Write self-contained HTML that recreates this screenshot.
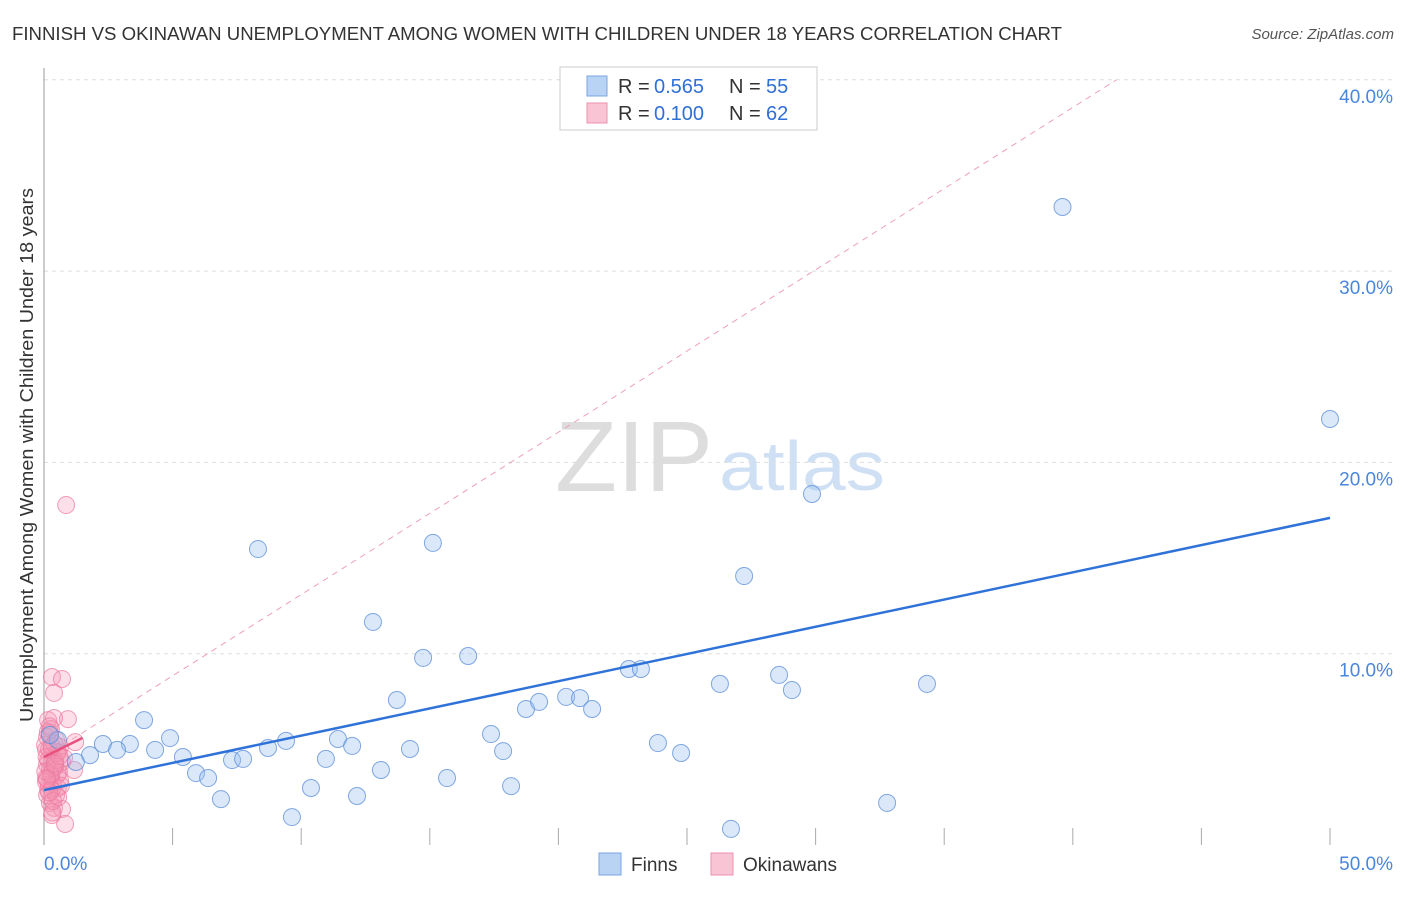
<!DOCTYPE html>
<html><head><meta charset="utf-8"><style>
body{margin:0;background:#fff;font-family:"Liberation Sans",sans-serif}
svg text{font-family:"Liberation Sans",sans-serif}
</style></head><body>
<svg id="c" width="1406" height="892">
<text x="12" y="40" font-size="18" fill="#333" textLength="1050" lengthAdjust="spacingAndGlyphs">FINNISH VS OKINAWAN UNEMPLOYMENT AMONG WOMEN WITH CHILDREN UNDER 18 YEARS CORRELATION CHART</text>
<text x="1394" y="39" font-size="15" fill="#555" text-anchor="end" font-style="italic">Source: ZipAtlas.com</text>
<text x="33" y="455" font-size="18" fill="#333" text-anchor="middle" textLength="534" lengthAdjust="spacingAndGlyphs" transform="rotate(-90 33 455)">Unemployment Among Women with Children Under 18 years</text>
<text x="634" y="491" font-size="100" fill="#ddd" font-family="Liberation Serif" text-anchor="middle" textLength="158" lengthAdjust="spacingAndGlyphs">ZIP</text>
<text x="802" y="490" font-size="70" fill="#cfe0f5" text-anchor="middle" textLength="166" lengthAdjust="spacingAndGlyphs">atlas</text>
<g id="grid"></g><g id="pts"></g><g id="lines"></g>
<g>
<rect x="560" y="67" width="257" height="63" fill="#fff" stroke="#ccc"/>
<rect x="587" y="76" width="20" height="20" fill="#b9d3f5" stroke="#7aa6e0"/>
<rect x="587" y="103" width="20" height="20" fill="#f9c4d3" stroke="#ee8fae"/>
<text x="618" y="93" font-size="20" fill="#333">R =</text><text x="654" y="93" font-size="20" fill="#2f6fd6">0.565</text>
<text x="729" y="93" font-size="20" fill="#333">N =</text><text x="766" y="93" font-size="20" fill="#2f6fd6">55</text>
<text x="618" y="120" font-size="20" fill="#333">R =</text><text x="654" y="120" font-size="20" fill="#2f6fd6">0.100</text>
<text x="729" y="120" font-size="20" fill="#333">N =</text><text x="766" y="120" font-size="20" fill="#2f6fd6">62</text>
</g>
<g>
<rect x="599" y="853" width="22" height="22" fill="#b9d3f5" stroke="#7aa6e0"/>
<text x="631" y="871" font-size="19" fill="#333">Finns</text>
<rect x="711" y="853" width="22" height="22" fill="#f9c4d3" stroke="#ee8fae"/>
<text x="743" y="871" font-size="19" fill="#333">Okinawans</text>
</g>
</svg>
<script>
const finnX=[39.6,50.0,29.86,8.32,15.12,27.22,12.79,14.74,16.49,22.74,23.21,26.28,28.58,29.08,34.33,13.72,18.74,19.25,20.30,20.84,21.31,3.89,17.38,17.85,23.87,24.77,4.90,3.34,2.29,2.84,4.32,1.79,5.40,7.31,7.74,8.71,9.41,11.43,11.98,10.96,14.23,5.91,6.38,13.10,15.67,10.38,12.17,18.16,6.88,9.64,32.78,26.71,1.24,0.54,0.23];
const finnY=[33.35,22.27,18.35,15.47,15.79,14.06,11.66,9.78,9.88,9.20,9.20,8.42,8.89,8.10,8.42,7.58,7.11,7.48,7.74,7.68,7.11,6.53,5.80,4.91,5.33,4.81,5.59,5.28,5.28,4.97,4.97,4.70,4.60,4.44,4.50,5.07,5.44,5.54,5.18,4.50,5.02,3.76,3.50,3.92,3.50,2.98,2.56,3.08,2.40,1.46,2.20,0.84,4.34,5.49,5.75];
const okiX=[0.86,0.31,0.70,0.39,0.16,0.93,0.39,1.21,0.12,0.23,0.47,0.62,0.08,0.31,0.54,0.16,0.43,0.70,0.23,0.51,0.08,0.35,0.62,0.16,0.47,0.23,0.39,0.70,0.31,0.82,1.17,0.54,0.78,0.12,0.04,0.27,0.19,0.58,0.35,0.12,0.43,0.27,0.08,0.50,0.20,0.66,0.30,0.10,0.40,0.55,0.25,0.15,0.45,0.35,0.05,0.60,0.20,0.30,0.12,0.42,0.22,0.33];
const okiY=[17.77,8.78,8.68,7.95,6.53,6.58,6.64,5.38,5.64,5.85,5.48,5.12,4.97,4.70,4.86,4.44,4.18,4.34,3.92,3.66,3.50,3.24,3.40,2.88,2.61,2.20,1.94,1.88,1.57,1.10,3.92,2.98,4.55,2.61,5.23,6.06,3.14,3.80,4.00,4.20,4.40,3.60,3.30,4.80,5.00,3.10,2.90,4.60,5.30,2.50,3.70,5.90,4.10,2.30,3.85,4.65,2.75,5.15,3.45,4.25,6.20,1.70];
const X=v=>44+v*25.72, Y=v=>845-v*19.13;
const ns='http://www.w3.org/2000/svg';
function mk(t,a,p){const e=document.createElementNS(ns,t);for(const k in a)e.setAttribute(k,a[k]);p.appendChild(e);return e;}
const grid=document.getElementById('grid');
const yTicks=[10,20,30,40], yLabels=['10.0%','20.0%','30.0%','40.0%'];
yTicks.forEach((t,i)=>{
 const l=mk('line',{x1:44,x2:1393,y1:Y(t),y2:Y(t),stroke:'#ddd','stroke-dasharray':'4,4'},grid);
 
 
 const tx=mk('text',{x:1393,y:Y(t)+23,'font-size':19,fill:'#4a86dc','text-anchor':'end'},grid);
 tx.textContent=yLabels[i];
 
 
});
const ax=mk('line',{x1:44,x2:44,y1:68,y2:845,stroke:'#999'},grid);


for(let i=1;i<=10;i++){
 const tk=mk('line',{x1:X(i*5),x2:X(i*5),y1:828,y2:845,stroke:'#aaa'},grid);
 
 
}
const xLabels=[[0,'0.0%','start'],[50,'50.0%','end']];
xLabels.forEach(d=>{
 const tx=mk('text',{x:d[0]==0?44:1393,y:870,'font-size':19,fill:'#4a86dc','text-anchor':d[2]},grid);
 tx.textContent=d[1];
 
 
});
const pts=document.getElementById('pts');
okiX.forEach((x,i)=>{
 const c=mk('circle',{cx:X(x),cy:Y(okiY[i]),r:8.5,fill:'rgba(245,150,180,0.3)',stroke:'rgba(235,120,160,0.7)'},pts);
 
 
});
finnX.forEach((x,i)=>{
 const c=mk('circle',{cx:X(x),cy:Y(finnY[i]),r:8.5,fill:'rgba(150,190,240,0.35)',stroke:'rgba(90,140,215,0.75)'},pts);
 
 
});
const lines=document.getElementById('lines');
const d1=mk('line',{x1:X(0),y1:Y(4.6),x2:X(41.7),y2:Y(40),stroke:'#eea0b8','stroke-dasharray':'6,5'},lines);


const p1=mk('line',{x1:X(0),y1:Y(4.6),x2:X(1.5),y2:Y(5.6),stroke:'#e8507e','stroke-width':2.5},lines);


const b1=mk('line',{x1:X(0),y1:Y(2.87),x2:X(50),y2:Y(17.1),stroke:'#2f72d8','stroke-width':2.5},lines);


</script>
</body></html>
